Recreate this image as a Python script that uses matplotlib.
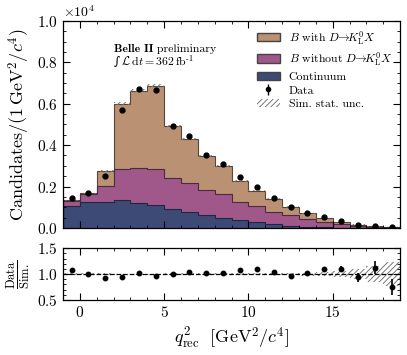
import numpy as np
import matplotlib
matplotlib.use("Agg")
import matplotlib.pyplot as plt
from matplotlib.patches import Patch

plt.rcParams['font.family'] = 'serif'
plt.rcParams['font.serif'] = ['cmr10']
plt.rcParams['mathtext.fontset'] = 'cm'
plt.rcParams['axes.formatter.use_mathtext'] = True
plt.rcParams['axes.unicode_minus'] = False
plt.rcParams['hatch.linewidth'] = 0.7

# binning in q2_rec [GeV^2/c^4]
edges = np.arange(-1, 20, 1)
centers = edges[:-1] + 0.5

# stacked simulation components (counts per bin)
continuum = [1080, 1260, 1260, 1340, 1180, 1110, 900, 790, 630, 500,
             390, 270, 190, 100, 50, 30, 15, 8, 4, 2]
b_without = [210, 380, 770, 1510, 1720, 1750, 1520, 1400, 1220, 1140,
             870, 790, 600, 530, 370, 250, 155, 92, 46, 23]
b_with = [40, 40, 710, 3150, 3730, 4020, 2510, 2110, 1620, 1360,
          1020, 740, 620, 400, 280, 200, 120, 60, 30, 15]
sim_rel_unc = [0.02, 0.018, 0.015, 0.01, 0.01, 0.01, 0.012, 0.012, 0.014, 0.015,
               0.017, 0.02, 0.022, 0.025, 0.03, 0.04, 0.06, 0.1, 0.16, 0.23]

# data
data = [1430, 1685, 2515, 5700, 6735, 6675, 4945, 4430, 3540, 3090,
        2440, 1960, 1460, 1000, 710, 525, 320, 150, 90, 30]
ratio_err = [0.02, 0.02, 0.015, 0.012, 0.012, 0.012, 0.012, 0.013, 0.015, 0.016,
             0.018, 0.02, 0.022, 0.025, 0.03, 0.035, 0.045, 0.088, 0.12, 0.16]

continuum = np.array(continuum, float)
b_without = np.array(b_without, float)
b_with = np.array(b_with, float)
data = np.array(data, float)
sim_rel_unc = np.array(sim_rel_unc)
ratio_err = np.array(ratio_err)

lvl1 = continuum
lvl2 = lvl1 + b_without
total = lvl2 + b_with
ratio = data / total

c_cont = '#3d4a75'
c_without = '#a0588a'
c_with = '#ba9172'

fig = plt.figure(figsize=(4.07, 3.55), dpi=100)
ax = fig.add_axes([0.155, 0.358, 0.828, 0.583])
rax = fig.add_axes([0.155, 0.155, 0.828, 0.146])

ax.stairs(total, edges, baseline=lvl2, fill=True, facecolor=c_with, edgecolor='none')
ax.stairs(lvl2, edges, baseline=lvl1, fill=True, facecolor=c_without, edgecolor='none')
ax.stairs(lvl1, edges, baseline=0, fill=True, facecolor=c_cont, edgecolor='none')
ax.stairs(total, edges, color='#5a4636', lw=0.8)
ax.stairs(lvl2, edges, color='#4a2a40', lw=0.8)
ax.stairs(lvl1, edges, color='#1e2640', lw=0.8)

unc = sim_rel_unc * total
ax.bar(centers, 2 * unc, bottom=total - unc, width=1, fill=False,
       hatch='//////', edgecolor='#777777', linewidth=0)

ax.errorbar(centers, data, yerr=np.sqrt(data), fmt='o', color='black',
            ms=3.5, elinewidth=1, capsize=0)

ax.set_xlim(-1, 19)
ax.set_ylim(0, 10000)
ax.ticklabel_format(axis='y', style='sci', scilimits=(4, 4))
ax.yaxis.get_offset_text().set_fontsize(10)
ax.set_yticks(np.arange(0, 10001, 2000))
ax.set_yticks(np.arange(0, 10001, 500), minor=True)
ax.set_xticks([0, 5, 10, 15])
ax.set_xticks(np.arange(-1, 20, 1), minor=True)
ax.tick_params(labelbottom=False)
ax.set_ylabel(r'Candidates$/(1\,\mathrm{GeV}^2/c^4)$', fontsize=13)

t1 = ax.text(0.151, 0.85, 'Belle II', transform=ax.transAxes, fontsize=8.5,
             family='cmb10', va='baseline')
ax.annotate(' preliminary', xy=(1, 0), xycoords=t1, fontsize=8.5, va='bottom')
t2 = ax.text(0.151, 0.785, '\u222b', transform=ax.transAxes, fontsize=8.5,
             family='DejaVu Serif', va='baseline')
ax.annotate(r'$\,\mathcal{L}\,\mathrm{d}t = 362\,\mathrm{fb}^{\text{-}1}$', xy=(1, 0.22),
            xycoords=t2, fontsize=8.5, va='baseline')

handles = [Patch(facecolor=c_with, edgecolor='#444444'),
           Patch(facecolor=c_without, edgecolor='#444444'),
           Patch(facecolor=c_cont, edgecolor='#444444'),
           ax.errorbar([], [], yerr=[], fmt='o', color='black', ms=3, elinewidth=1),
           Patch(fill=False, hatch='//////', edgecolor='#777777', linewidth=0)]
labels = [r'$B$ with $D\!\!\to\!\!K_{\rm L}^0X$', r'$B$ without $D\!\!\to\!\!K_{\rm L}^0X$',
          'Continuum', 'Data', 'Sim. stat. unc.']
ax.legend(handles, labels, loc='upper right', frameon=False, fontsize=8.5,
          handlelength=1.95, handletextpad=0.75,
          labelspacing=0.3, borderaxespad=0.25, bbox_to_anchor=(1.0, 1.0))

# ratio panel
rax.bar(centers, 2 * sim_rel_unc, bottom=1 - sim_rel_unc, width=1, fill=False,
        hatch='//////', edgecolor='#777777', linewidth=0)
rax.axhline(1.0, color='black', ls='--', lw=0.9)
rax.errorbar(centers, ratio, yerr=ratio_err, fmt='o', color='black',
             ms=3.2, elinewidth=1.2, capsize=0)
rax.set_xlim(-1, 19)
rax.set_ylim(0.5, 1.5)
rax.set_yticks([0.5, 1.0, 1.5])
rax.set_yticks(np.arange(0.5, 1.51, 0.1), minor=True)
rax.set_xticks([0, 5, 10, 15])
rax.set_xticks(np.arange(-1, 20, 1), minor=True)
rax.set_ylabel(r'$\frac{\mathrm{Data}}{\mathrm{Sim.}}$', fontsize=13)
rax.set_xlabel(r'$q^2_{\mathrm{rec}}\ \ [\mathrm{GeV}^2/c^4]$', fontsize=13)

for a in (ax, rax):
    a.tick_params(which='both', direction='in', top=True, right=True, labelsize=11)
    a.tick_params(which='major', length=5)
    a.tick_params(which='minor', length=2.5)
    for s in a.spines.values():
        s.set_linewidth(0.9)

fig.align_ylabels([ax, rax])
plt.savefig('out.png', dpi=100)
